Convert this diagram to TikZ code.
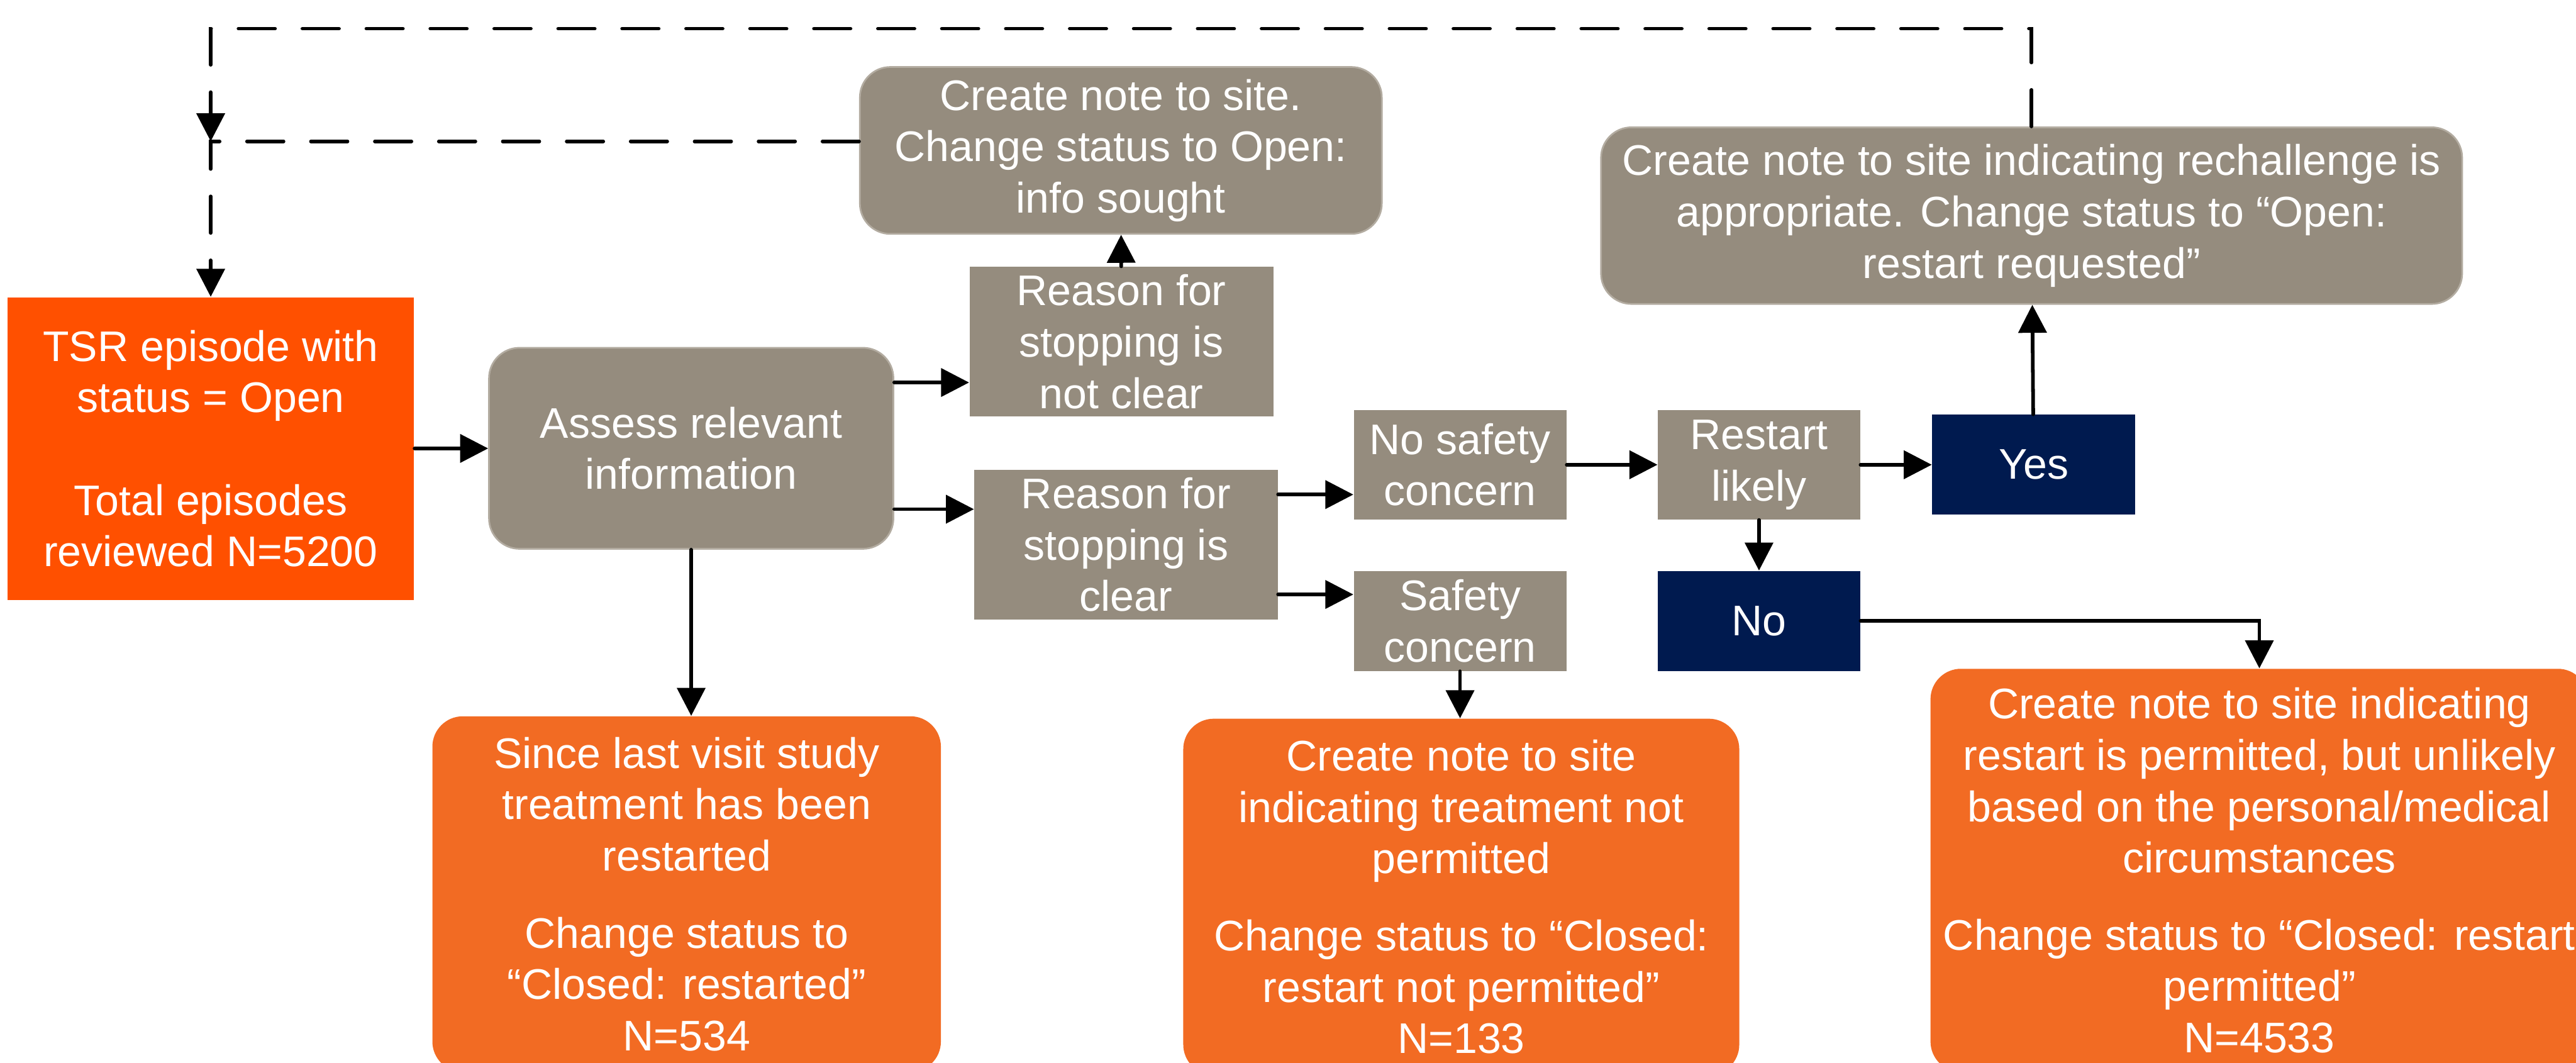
\documentclass[tikz,border=0pt]{standalone}
\usepackage{fontspec}
\setmainfont{Liberation Sans}
\usepackage{tikz}
\usetikzlibrary{arrows.meta,positioning}
\definecolor{cstart}{HTML}{FF5000}
\definecolor{cend}{HTML}{F26B23}
\definecolor{cstep}{HTML}{958C7E}
\definecolor{cstepborder}{HTML}{B3ACA1}
\definecolor{cans}{HTML}{001A4F}

\begin{document}
\begin{tikzpicture}[
    font=\fontsize{20}{24}\selectfont,
    entry/.style={fill=cstart, text=white, align=center, inner sep=2pt},
    proc/.style={draw=cstepborder, line width=0.8pt, fill=cstep, text=white,
                 rounded corners=0.5cm, align=center, inner sep=2pt},
    cond/.style={fill=cstep, text=white, align=center, inner sep=2pt},
    ans/.style={fill=cans, text=white, align=center, inner sep=2pt},
    outc/.style={fill=cend, text=white, rounded corners=0.5cm, align=center, inner sep=2pt},
    arr/.style={-{Triangle[length=4.6mm,width=4.6mm]}, line width=1.7pt, line cap=round},
    retarr/.style={arr, dash pattern=on 6mm off 4.5mm}
]
\useasboundingbox (0,0) rectangle (42.30,-17.45);
\clip (0,0) rectangle (42.30,-17.45);

\node[entry, minimum width=6.68cm, minimum height=4.97cm] (tsr) at (3.46,-7.365)
    {TSR episode with\\status = Open\\[24pt]Total episodes\\reviewed N=5200};
\node[proc, minimum width=6.64cm, minimum height=3.30cm] (assess) at (11.35,-7.36)
    {Assess relevant\\information};

\node[proc, minimum width=8.57cm, minimum height=2.74cm] (info) at (18.405,-2.47)
    {Create note to site.\\Change status to Open:\\info sought};
\node[cond, minimum width=4.99cm, minimum height=2.46cm] (notclear) at (18.415,-5.61)
    {Reason for\\stopping is\\not clear};
\node[cond, minimum width=4.98cm, minimum height=2.46cm] (clear) at (18.49,-8.94)
    {Reason for\\stopping is\\clear};

\node[cond, minimum width=3.49cm, minimum height=1.80cm] (nosafe) at (23.975,-7.63)
    {No safety\\concern};
\node[cond, minimum width=3.49cm, minimum height=1.64cm, below=0.83cm of nosafe] (safe)
    {Safety\\concern};
\node[cond, minimum width=3.32cm, minimum height=1.80cm, right=1.49cm of nosafe] (likely)
    {Restart\\likely};
\node[ans, minimum width=3.33cm, minimum height=1.64cm, right=1.17cm of likely] (yes) {Yes};
\node[ans, minimum width=3.32cm, minimum height=1.64cm, below=0.83cm of likely] (no) {No};

\node[proc, minimum width=14.14cm, minimum height=2.90cm] (rechal) at (33.36,-3.54)
    {Create note to site indicating rechallenge is\\appropriate. Change status to “Open:\\restart requested”};

\node[outc, minimum width=8.35cm, minimum height=5.84cm] (since) at (11.275,-14.68)
    {Since last visit study\\treatment has been\\restarted\\[12pt]Change status to\\“Closed: restarted”\\N=534};
\node[outc, minimum width=9.13cm, minimum height=5.85cm] (notperm) at (23.995,-14.725)
    {Create note to site\\indicating treatment not\\permitted\\[12pt]Change status to “Closed:\\restart not permitted”\\N=133};
\node[outc, minimum width=10.80cm, minimum height=6.62cm] (perm) at (37.10,-14.29)
    {Create note to site indicating\\restart is permitted, but unlikely\\based on the personal/medical\\circumstances\\[12pt]Change status to “Closed: restart\\permitted”\\N=4533};

\coordinate (toprow) at (3.46,-0.47);
\coordinate (join) at (3.46,-2.32);

\draw[arr] (tsr) -- (assess);
\draw[arr] ([yshift=1.08cm]assess.east) coordinate (a1) -- (a1 -| notclear.west);
\draw[arr] ([yshift=-1.00cm]assess.east) coordinate (a2) -- (a2 -| clear.west);
\draw[arr] (assess.south) -- (assess.south |- since.north);
\draw[arr] (notclear) -- (info);
\draw[arr] ([yshift=0.82cm]clear.east) coordinate (c1) -- (c1 -| nosafe.west);
\draw[arr] ([yshift=-0.82cm]clear.east) coordinate (c2) -- (c2 -| safe.west);
\draw[arr] (safe.south) -- (safe.south |- notperm.north);
\draw[arr] (nosafe) -- (likely);
\draw[arr] (likely) -- (yes);
\draw[arr] (likely) -- (no);
\draw[arr] (yes) -- (rechal);
\draw[arr] (no.east) -| (perm.north);

\draw[retarr] (rechal.north) |- (toprow) -- (join);
\draw[retarr] (info.west |- join) -- (join) -- (tsr.north);
\end{tikzpicture}
\end{document}
